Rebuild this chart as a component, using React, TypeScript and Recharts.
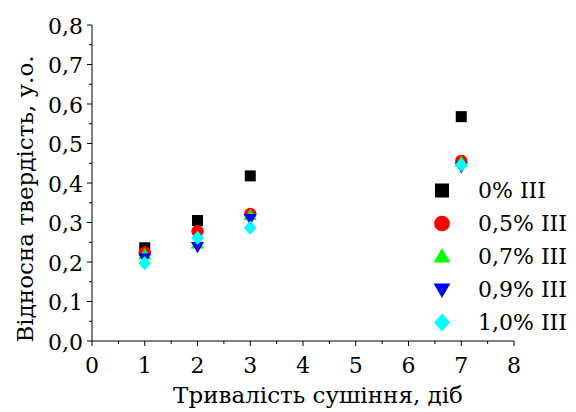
import React from 'react';
import { ScatterChart, Scatter, XAxis, YAxis, Legend } from 'recharts';

const days = [1, 2, 3, 7];
const series0 = [0.236, 0.305, 0.418, 0.568];
const series05 = [0.224, 0.278, 0.322, 0.456];
const series07 = [0.219, 0.246, 0.318, 0.453];
const series09 = [0.21, 0.239, 0.31, 0.441];
const series10 = [0.197, 0.261, 0.287, 0.446];

const seriesNames = ['0% III', '0,5% III', '0,7% III', '0,9% III', '1,0% III'];
const seriesColors = ['#000000', '#ff0000', '#00ff00', '#0000ff', '#00ffff'];
const seriesShapes = ['square', 'circle', 'triangle', 'triangleDown', 'diamond'];
const seriesValues = [series0, series05, series07, series09, series10];

const xTicks = [0, 0.5, 1, 1.5, 2, 2.5, 3, 3.5, 4, 4.5, 5, 5.5, 6, 6.5, 7, 7.5, 8];
const yTicks = [0, 0.05, 0.1, 0.15, 0.2, 0.25, 0.3, 0.35, 0.4, 0.45, 0.5, 0.55, 0.6, 0.65, 0.7, 0.75, 0.8];

const xTitle = 'Тривалість сушіння, діб';
const yTitle = 'Відносна твердість, у.о.';

const FONT = 'DejaVu Serif';
const tickStyle = { fontFamily: FONT, fontSize: 22 };
const titleStyle = { fontFamily: FONT, fontSize: 23 };

function Marker({ kind, cx, cy, size, color }: { kind: string; cx: number; cy: number; size: number; color: string }) {
  const h = size / 2;
  switch (kind) {
    case 'square':
      return <rect x={cx - h} y={cy - h} width={size} height={size} fill={color} />;
    case 'circle':
      return <circle cx={cx} cy={cy} r={h * 1.12} fill={color} />;
    case 'triangle':
      return (
        <polygon
          points={`${cx},${cy - h * 1.2} ${cx + h * 1.2},${cy + h * 0.85} ${cx - h * 1.2},${cy + h * 0.85}`}
          fill={color}
        />
      );
    case 'triangleDown':
      return (
        <polygon
          points={`${cx},${cy + h * 1.2} ${cx + h * 1.2},${cy - h * 0.85} ${cx - h * 1.2},${cy - h * 0.85}`}
          fill={color}
        />
      );
    case 'diamond':
      return (
        <polygon
          points={`${cx},${cy - h * 1.3} ${cx + h * 1.15},${cy} ${cx},${cy + h * 1.3} ${cx - h * 1.15},${cy}`}
          fill={color}
        />
      );
    default:
      return null;
  }
}

const XTick = (props: any) => {
  const { x, y, payload } = props;
  const v = payload.value as number;
  const major = Math.abs(v - Math.round(v)) < 1e-6;
  return (
    <g>
      <line x1={x} x2={x} y1={y} y2={y + (major ? 5 : 3)} stroke="#000" strokeWidth={1} />
      {major && (
        <text x={x} y={y + 32} textAnchor="middle" style={tickStyle} fill="#000">
          {String(v)}
        </text>
      )}
    </g>
  );
};

const YTick = (props: any) => {
  const { x, y, payload } = props;
  const v = payload.value as number;
  const major = Math.abs(v * 10 - Math.round(v * 10)) < 1e-6;
  return (
    <g>
      <line x1={x - (major ? 5 : 3)} x2={x} y1={y} y2={y} stroke="#000" strokeWidth={1} />
      {major && (
        <text x={x - 9} y={y + 8.5} textAnchor="end" style={tickStyle} fill="#000">
          {v.toFixed(1).replace('.', ',')}
        </text>
      )}
    </g>
  );
};

const XTitle = (props: any) => {
  const { viewBox } = props;
  const cx = viewBox.x + viewBox.width / 2 + 15;
  return (
    <text x={cx} y={viewBox.y + 62} textAnchor="middle" style={titleStyle} fill="#000">
      {xTitle}
    </text>
  );
};

const YTitle = (props: any) => {
  const { viewBox } = props;
  const x = viewBox.x + 21;
  const y = viewBox.y + viewBox.height / 2 + 16;
  return (
    <text x={x} y={y} transform={`rotate(-90, ${x}, ${y})`} textAnchor="middle" style={titleStyle} fill="#000">
      {yTitle}
    </text>
  );
};

const LegendContent = () => (
  <div style={{ fontFamily: FONT }}>
    {seriesNames.map((n, i) => (
      <div key={n} style={{ height: 33, display: 'flex', alignItems: 'center' }}>
        <svg width={28} height={33} style={{ display: 'block' }}>
          <Marker kind={seriesShapes[i]} cx={14} cy={16.5} size={14} color={seriesColors[i]} />
        </svg>
        <span
          style={{
            marginLeft: 22,
            fontSize: 22,
            fontFamily: FONT,
            lineHeight: '33px',
            color: '#000',
            whiteSpace: 'nowrap',
          }}
        >
          {n}
        </span>
      </div>
    ))}
  </div>
);

export default function App() {
  return (
    <div style={{ position: 'absolute', left: 0, top: 0, width: 576, height: 412, background: '#fff' }}>
      <ScatterChart width={576} height={412} margin={{ top: 25, right: 62, bottom: 0, left: 12 }}>
        <XAxis
          type="number"
          dataKey="x"
          domain={[0, 8]}
          ticks={xTicks}
          interval={0}
          tickLine={false}
          tickSize={0}
          tickMargin={0}
          tick={<XTick />}
          axisLine={{ stroke: '#000', strokeWidth: 1 }}
          height={71}
          allowDataOverflow
          label={<XTitle />}
        />
        <YAxis
          type="number"
          dataKey="y"
          domain={[0, 0.8]}
          ticks={yTicks}
          interval={0}
          tickLine={false}
          tickSize={0}
          tickMargin={0}
          tick={<YTick />}
          axisLine={{ stroke: '#000', strokeWidth: 1 }}
          width={80}
          allowDataOverflow
          label={<YTitle />}
        />
        <Legend
          layout="vertical"
          align="center"
          verticalAlign="middle"
          wrapperStyle={{ position: 'absolute', left: 428, top: 174, width: 148 }}
          content={<LegendContent />}
        />
        {seriesValues.map((vals, i) => (
          <Scatter
            key={seriesNames[i]}
            name={seriesNames[i]}
            data={days.map((d, j) => ({ x: d, y: vals[j] }))}
            fill={seriesColors[i]}
            isAnimationActive={false}
            shape={(p: any) => <Marker kind={seriesShapes[i]} cx={p.cx} cy={p.cy} size={11} color={seriesColors[i]} />}
          />
        ))}
      </ScatterChart>
    </div>
  );
}
